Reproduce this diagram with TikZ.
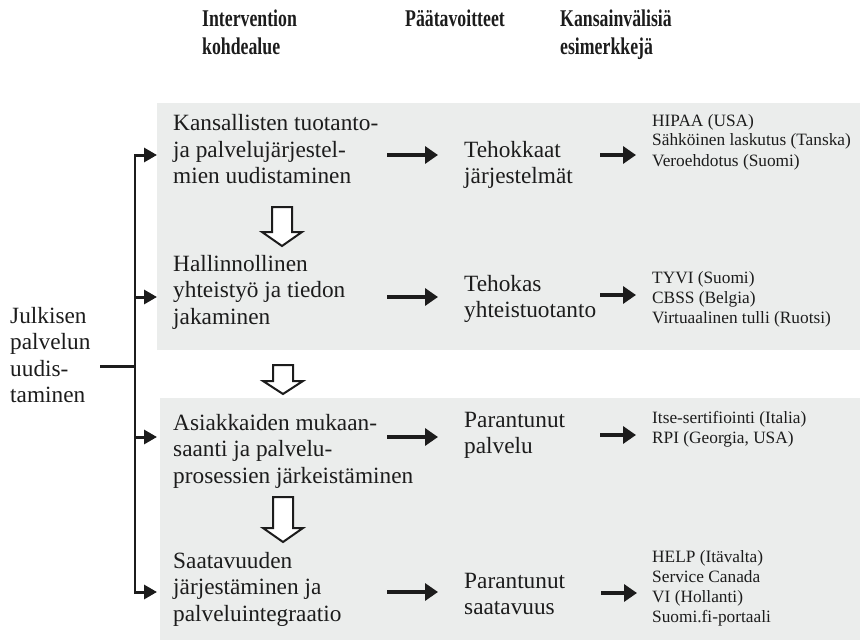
\documentclass[tikz,border=0pt]{standalone}
\usepackage{fontspec}
\setmainfont{Liberation Serif}
\newfontfamily\hdfont[FakeStretch=0.74]{Liberation Serif}
\usetikzlibrary{arrows.meta}
\definecolor{bandgray}{RGB}{235,237,236}
\definecolor{ink}{RGB}{28,28,28}
\newcommand\mlines[1]{\begin{tabular}[t]{@{}l@{}}#1\end{tabular}}
\begin{document}
\begin{tikzpicture}[x=1pt,y=-1pt,
  every node/.style={text=ink},
  maintext/.style={font=\fontsize{23.3}{26.5}\selectfont, inner sep=0pt, anchor=base west},
  smalltext/.style={font=\fontsize{17.3}{20}\selectfont, inner sep=0pt, anchor=base west},
  headtext/.style={font=\hdfont\bfseries\fontsize{24}{28}\selectfont, inner sep=0pt, anchor=base west},
  band/.style={fill=bandgray},
  treeline/.style={draw=ink, line width=2pt},
  branch/.style={draw=ink, line width=3pt, -{Triangle[length=13pt,width=14pt]}},
  bigarrow/.style={draw=ink, line width=4.5pt, -{Triangle[length=13pt,width=17pt]}},
  pics/hollow/.style 2 args={code={
    \draw[draw=ink, line width=2pt, fill=white, line join=miter]
      (-10,0) -- (10,0) -- (10,#1) -- (20,#1) -- (0,#2) -- (-20,#1) -- (-10,#1) -- cycle;}}
]
\useasboundingbox (0,0) rectangle (860,642);

% background bands
\fill[band] (157,103) rectangle (860,350);
\fill[band] (160,398) rectangle (860,640);

% headers
\node[headtext] (h1) at (202,27) {\mlines{Intervention\\kohdealue}};
\node[headtext] (h2) at (405,27) {Päätavoitteet};
\node[headtext] (h3) at (560,27) {\mlines{Kansainvälisiä\\esimerkkejä}};

% root
\node[maintext] (root) at (10,323) {\mlines{Julkisen\\palvelun\\uudis-\\taminen}};

% left column
\node[maintext] (l1) at (173,131) {\mlines{Kansallisten tuotanto-\\ja palvelujärjestel-\\mien uudistaminen}};
\node[maintext] (l2) at (173,271) {\mlines{Hallinnollinen\\yhteistyö ja tiedon\\jakaminen}};
\node[maintext] (l3) at (173,430) {\mlines{Asiakkaiden mukaan-\\saanti ja palvelu-\\prosessien järkeistäminen}};
\node[maintext] (l4) at (173,568) {\mlines{Saatavuuden\\järjestäminen ja\\palveluintegraatio}};

% middle column
\node[maintext] (m1) at (464,157) {\mlines{Tehokkaat\\järjestelmät}};
\node[maintext] (m2) at (464,291) {\mlines{Tehokas\\yhteistuotanto}};
\node[maintext] (m3) at (464,427) {\mlines{Parantunut\\palvelu}};
\node[maintext] (m4) at (464,588) {\mlines{Parantunut\\saatavuus}};

% right column
\node[smalltext] (r1) at (652,126) {\mlines{HIPAA (USA)\\Sähköinen laskutus (Tanska)\\Veroehdotus (Suomi)}};
\node[smalltext] (r2) at (652,283) {\mlines{TYVI (Suomi)\\CBSS (Belgia)\\Virtuaalinen tulli (Ruotsi)}};
\node[smalltext] (r3) at (652,423) {\mlines{Itse-sertifiointi (Italia)\\RPI (Georgia, USA)}};
\node[smalltext] (r4) at (652,562) {\mlines{HELP (Itävalta)\\Service Canada\\VI (Hollanti)\\Suomi.fi-portaali}};

% tree
\coordinate (tt) at (135,154);
\coordinate (tb) at (135,593);
\coordinate (j)  at (135,366);
\coordinate (js) at (100,366);
\draw[treeline] (tt) -- (tb);
\draw[draw=ink, line width=3pt] (js) -- (j);
\coordinate (t1) at (134,155);
\coordinate (t2) at (134,297);
\coordinate (t3) at (134,437);
\coordinate (t4) at (134,592);
\draw[branch, shorten >=16pt] (t1) -- (l1.west |- t1);
\draw[branch, shorten >=16pt] (t2) -- (l2.west |- t2);
\draw[branch, shorten >=16pt] (t3) -- (l3.west |- t3);
\draw[branch, shorten >=16pt] (t4) -- (l4.west |- t4);

% left -> middle arrows
\coordinate (p1) at (387,155);
\coordinate (p2) at (387,297);
\coordinate (p3) at (387,437);
\coordinate (p4) at (387,592);
\draw[bigarrow, shorten >=26pt] (p1) -- (m1.west |- p1);
\draw[bigarrow, shorten >=26pt] (p2) -- (m2.west |- p2);
\draw[bigarrow, shorten >=26pt] (p3) -- (m3.west |- p3);
\draw[bigarrow, shorten >=26pt] (p4) -- (m4.west |- p4);

% middle -> right arrows
\coordinate (q1) at (600,155);
\coordinate (q2) at (600,295);
\coordinate (q3) at (600,435);
\coordinate (q4) at (601,593);
\draw[bigarrow, shorten >=16pt] (q1) -- (r1.west |- q1);
\draw[bigarrow, shorten >=16pt] (q2) -- (r2.west |- q2);
\draw[bigarrow, shorten >=16pt] (q3) -- (r3.west |- q3);
\draw[bigarrow, shorten >=15pt] (q4) -- (r4.west |- q4);

% hollow arrows
\pic at (282,207) {hollow={25}{39}};
\pic at (283,365) {hollow={16}{29}};
\pic at (283,497) {hollow={31}{45}};
\end{tikzpicture}
\end{document}
